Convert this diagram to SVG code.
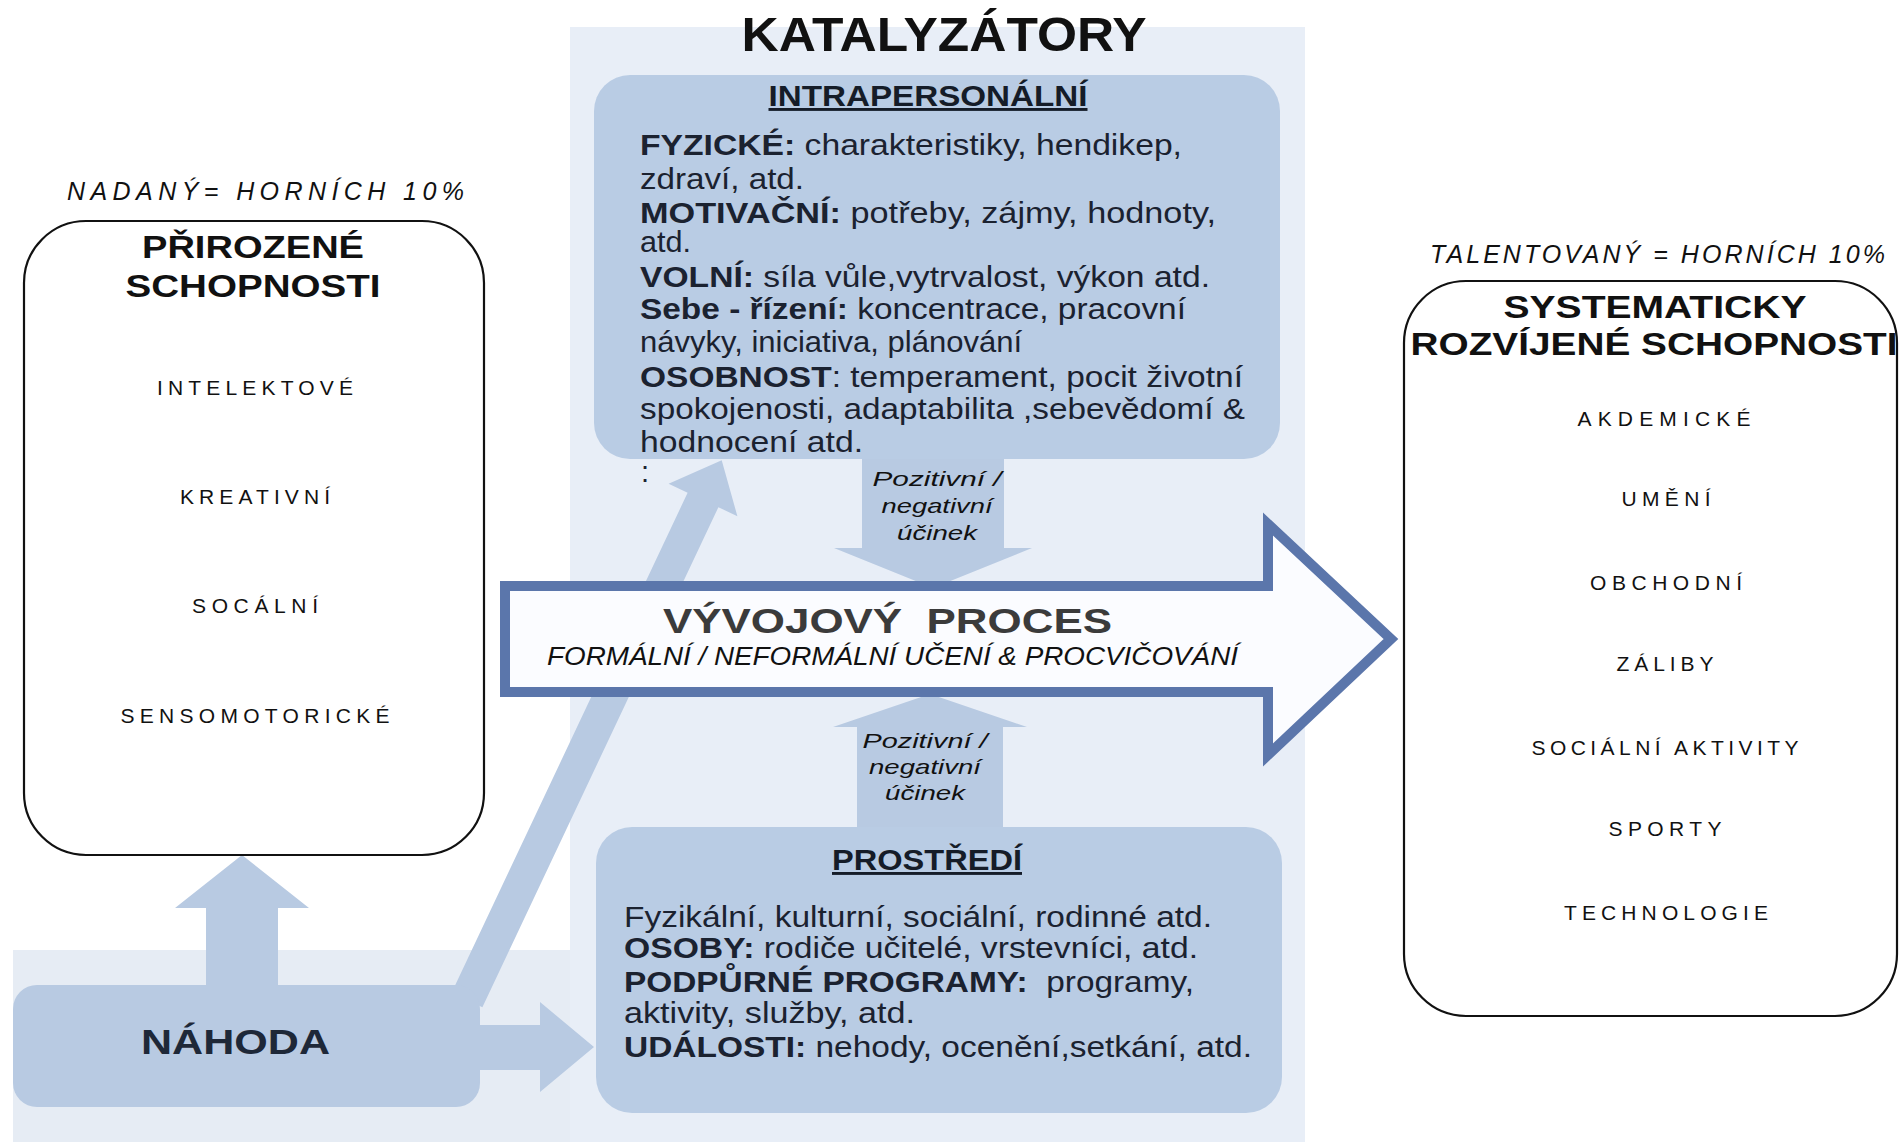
<svg xmlns="http://www.w3.org/2000/svg" width="1901" height="1142" viewBox="0 0 1901 1142">
<style>
  .sans{font-family:"Liberation Sans",Arial,sans-serif}
  .body{font-family:"Liberation Sans",Arial,sans-serif;font-size:29px;fill:#1b2230}
  .b{font-weight:bold}
  .item{font-family:"Liberation Sans",Arial,sans-serif;font-size:21px;fill:#111;text-anchor:middle}
  .head{font-family:"Liberation Sans",Arial,sans-serif;font-size:32px;font-weight:bold;fill:#111;text-anchor:middle}
  .cap{font-family:"Liberation Sans",Arial,sans-serif;font-size:25px;font-style:italic;fill:#111}
  .eff{font-family:"Liberation Sans",Arial,sans-serif;font-size:21px;font-style:italic;fill:#111;text-anchor:middle}
  .ulh{font-family:"Liberation Sans",Arial,sans-serif;font-size:29px;font-weight:bold;fill:#151c28;text-anchor:middle;text-decoration:underline}
  .cat{fill:#b9cce4}
  .arr{fill:#b8cae2}
  .wbox{fill:#ffffff;stroke:#111;stroke-width:2.2}
</style>
<rect x="0" y="0" width="1901" height="1142" fill="#ffffff"/>

<g id="background">
  <rect x="570" y="27" width="735" height="1115" fill="#e8eef7"/>
  <rect x="13" y="950" width="557" height="192" fill="#e6ecf4"/>
</g>

<g id="katalyzatory-title">
  <text class="sans" x="944" y="51" font-size="48" font-weight="bold" fill="#111" text-anchor="middle" textLength="405" lengthAdjust="spacingAndGlyphs">KATALYZÁTORY</text>
</g>

<g id="connectors">
  <polygon class="arr" points="451.6,992.8 687.6,492.8 668.6,483.8 721.7,460.2 737.4,516.2 718.4,507.2 482.4,1007.2"/>
  <polygon class="arr" points="206,990 206,908 175,908 242,855 309,908 278,908 278,990"/>
  <polygon class="arr" points="470,1025 540,1025 540,1002 594,1047 540,1092 540,1070 470,1070"/>
  <polygon class="arr" points="862,455 1004,455 1004,548 1032,548 933,588 834,548 862,548"/>
  <polygon class="arr" points="857,835 1003,835 1003,727 1027,727 930,694 833,727 857,727"/>
  <g id="effect-top">
    <text class="eff" x="937" y="486" textLength="129" lengthAdjust="spacingAndGlyphs">Pozitivní /</text>
    <text class="eff" x="937" y="513" textLength="111" lengthAdjust="spacingAndGlyphs">negativní</text>
    <text class="eff" x="937" y="540" textLength="80" lengthAdjust="spacingAndGlyphs">účinek</text>
  </g>
  <g id="effect-bottom">
    <text class="eff" x="925" y="748" textLength="125" lengthAdjust="spacingAndGlyphs">Pozitivní /</text>
    <text class="eff" x="925" y="774" textLength="112" lengthAdjust="spacingAndGlyphs">negativní</text>
    <text class="eff" x="925" y="800" textLength="80" lengthAdjust="spacingAndGlyphs">účinek</text>
  </g>
</g>

<g id="intrapersonalni">
  <rect class="cat" x="594" y="75" width="686" height="384" rx="36" ry="36"/>
  <text class="ulh" x="928" y="106" textLength="319" lengthAdjust="spacingAndGlyphs">INTRAPERSONÁLNÍ</text>
  <text class="body" x="640" y="155" textLength="542" lengthAdjust="spacingAndGlyphs"><tspan class="b">FYZICKÉ:</tspan> charakteristiky, hendikep,</text>
  <text class="body" x="640" y="189" textLength="164" lengthAdjust="spacingAndGlyphs">zdraví, atd.</text>
  <text class="body" x="640" y="223" textLength="576" lengthAdjust="spacingAndGlyphs"><tspan class="b">MOTIVAČNÍ:</tspan> potřeby, zájmy, hodnoty,</text>
  <text class="body" x="640" y="252" textLength="51" lengthAdjust="spacingAndGlyphs">atd.</text>
  <text class="body" x="640" y="287" textLength="570" lengthAdjust="spacingAndGlyphs"><tspan class="b">VOLNÍ:</tspan> síla vůle,vytrvalost, výkon atd.</text>
  <text class="body" x="640" y="319" textLength="546" lengthAdjust="spacingAndGlyphs"><tspan class="b">Sebe - řízení:</tspan> koncentrace, pracovní</text>
  <text class="body" x="640" y="352" textLength="382" lengthAdjust="spacingAndGlyphs">návyky, iniciativa, plánování</text>
  <text class="body" x="640" y="387" textLength="603" lengthAdjust="spacingAndGlyphs"><tspan class="b">OSOBNOST</tspan>: temperament, pocit životní</text>
  <text class="body" x="640" y="419" textLength="605" lengthAdjust="spacingAndGlyphs">spokojenosti, adaptabilita ,sebevědomí &amp;</text>
  <text class="body" x="640" y="452" textLength="223" lengthAdjust="spacingAndGlyphs">hodnocení atd.</text>
  <text class="body" x="641" y="482" font-size="18">:</text>
</g>

<g id="prostredi">
  <rect class="cat" x="596" y="827" width="686" height="286" rx="36" ry="36"/>
  <text class="ulh" x="927" y="870" textLength="190" lengthAdjust="spacingAndGlyphs">PROSTŘEDÍ</text>
  <text class="body" x="624" y="927" textLength="588" lengthAdjust="spacingAndGlyphs">Fyzikální, kulturní, sociální, rodinné atd.</text>
  <text class="body" x="624" y="958" textLength="574" lengthAdjust="spacingAndGlyphs"><tspan class="b">OSOBY:</tspan> rodiče učitelé, vrstevníci, atd.</text>
  <text class="body" x="624" y="992" textLength="570" lengthAdjust="spacingAndGlyphs" xml:space="preserve"><tspan class="b">PODPŮRNÉ PROGRAMY:</tspan>  programy,</text>
  <text class="body" x="624" y="1023" textLength="291" lengthAdjust="spacingAndGlyphs">aktivity, služby, atd.</text>
  <text class="body" x="624" y="1057" textLength="628" lengthAdjust="spacingAndGlyphs"><tspan class="b">UDÁLOSTI:</tspan> nehody, ocenění,setkání, atd.</text>
</g>

<g id="nahoda">
  <rect class="arr" x="13" y="985" width="467" height="122" rx="24" ry="24"/>
  <text class="sans" x="141" y="1054" font-size="35" font-weight="bold" fill="#1e2838" textLength="189" lengthAdjust="spacingAndGlyphs">NÁHODA</text>
</g>

<g id="vyvojovy-proces">
  <path d="M505,586 H1268 V524 L1391,639 L1268,755 V692 H505 Z" fill="#fbfcff" stroke="#5b76ab" stroke-width="10" stroke-linejoin="miter"/>
  <text class="sans" x="663" y="633" font-size="35" font-weight="bold" fill="#3b3b3b" textLength="449" lengthAdjust="spacingAndGlyphs" xml:space="preserve">VÝVOJOVÝ  PROCES</text>
  <text class="cap" x="547" y="665" font-size="24" textLength="691" lengthAdjust="spacingAndGlyphs">FORMÁLNÍ / NEFORMÁLNÍ UČENÍ &amp; PROCVIČOVÁNÍ</text>
</g>

<g id="prirozene-schopnosti">
  <text class="cap" x="67" y="200" textLength="397" lengthAdjust="spacing">NADANÝ= HORNÍCH 10%</text>
  <rect class="wbox" x="24" y="221" width="460" height="634" rx="62" ry="62"/>
  <text class="head" x="253" y="258" textLength="222" lengthAdjust="spacingAndGlyphs">PŘIROZENÉ</text>
  <text class="head" x="253" y="297" textLength="255" lengthAdjust="spacingAndGlyphs">SCHOPNOSTI</text>
  <text class="item" x="255" y="395" textLength="196" lengthAdjust="spacing">INTELEKTOVÉ</text>
  <text class="item" x="255" y="504" textLength="150" lengthAdjust="spacing">KREATIVNÍ</text>
  <text class="item" x="255" y="613" textLength="126" lengthAdjust="spacing">SOCÁLNÍ</text>
  <text class="item" x="255" y="723" textLength="269" lengthAdjust="spacing">SENSOMOTORICKÉ</text>
</g>

<g id="systematicky-rozvijene-schopnosti">
  <text class="cap" x="1430" y="263" textLength="455" lengthAdjust="spacing">TALENTOVANÝ = HORNÍCH 10%</text>
  <rect class="wbox" x="1404" y="281" width="493" height="735" rx="62" ry="62"/>
  <text class="head" x="1655" y="318" textLength="303" lengthAdjust="spacingAndGlyphs">SYSTEMATICKY</text>
  <text class="head" x="1654" y="355" textLength="487" lengthAdjust="spacingAndGlyphs">ROZVÍJENÉ SCHOPNOSTI</text>
  <text class="item" x="1664" y="426" textLength="173" lengthAdjust="spacing">AKDEMICKÉ</text>
  <text class="item" x="1666" y="506" textLength="89" lengthAdjust="spacing">UMĚNÍ</text>
  <text class="item" x="1666" y="590" textLength="152" lengthAdjust="spacing">OBCHODNÍ</text>
  <text class="item" x="1665" y="671" textLength="97" lengthAdjust="spacing">ZÁLIBY</text>
  <text class="item" x="1665" y="755" textLength="267" lengthAdjust="spacing">SOCIÁLNÍ AKTIVITY</text>
  <text class="item" x="1665" y="836" textLength="113" lengthAdjust="spacing">SPORTY</text>
  <text class="item" x="1666" y="920" textLength="204" lengthAdjust="spacing">TECHNOLOGIE</text>
</g>
</svg>
